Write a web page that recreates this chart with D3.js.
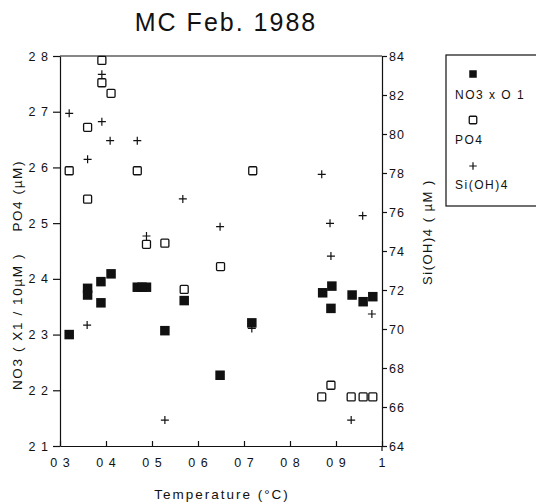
<!DOCTYPE html>
<html>
<head>
<meta charset="utf-8">
<script src="https://cdn.jsdelivr.net/npm/d3@7"></script>
<style>
  body { margin: 0; background: #fff; }
  text { font-family: 'Liberation Sans', Arial, sans-serif; fill: #111; white-space: pre; }
  .axis path, .axis line { stroke: #111; stroke-width: 1.2; }
</style>
</head>
<body>
<div id="chart"></div>
<script>
// temperature (C) and nitrate x 0.1
const tempNO3 = [0.32, 0.36, 0.36, 0.389, 0.389, 0.411, 0.468, 0.478, 0.488, 0.528, 0.570, 0.648, 0.717, 0.871, 0.891, 0.889, 0.935, 0.959, 0.980]
const no3 = [2.30, 2.383, 2.371, 2.395, 2.357, 2.409, 2.385, 2.385, 2.385, 2.307, 2.361, 2.227, 2.321, 2.375, 2.387, 2.347, 2.371, 2.359, 2.368]

// phosphate
const tempPO4 = [0.391, 0.391, 0.411, 0.360, 0.320, 0.468, 0.360, 0.488, 0.528, 0.649, 0.570, 0.719, 0.889, 0.869, 0.933, 0.959, 0.980]
const po4 = [2.792, 2.752, 2.733, 2.672, 2.594, 2.594, 2.543, 2.462, 2.464, 2.422, 2.381, 2.594, 2.209, 2.188, 2.188, 2.188, 2.188]

// silicate
const tempSi = [0.32, 0.391, 0.391, 0.409, 0.468, 0.360, 0.567, 0.869, 0.958, 0.488, 0.648, 0.359, 0.528, 0.887, 0.889, 0.978, 0.717, 0.933]
const si = [81.06, 83.06, 80.63, 79.66, 79.66, 78.7, 76.67, 77.93, 75.81, 74.77, 75.25, 70.2, 65.33, 75.42, 73.74, 70.77, 70.03, 65.33]

const xTicks = [0.3, 0.4, 0.5, 0.6, 0.7, 0.8, 0.9, 1.0]
const leftTicks = [2.1, 2.2, 2.3, 2.4, 2.5, 2.6, 2.7, 2.8]
const rightTicks = [64, 66, 68, 70, 72, 74, 76, 78, 80, 82, 84]
const legendNames = ['NO3 x O 1', 'PO4', 'Si(OH)4']

const W = 536, H = 504
const ml = 60, mr = 154, mt = 56, mb = 58
const w = W - ml - mr, h = H - mt - mb

const svg = d3.select('#chart').append('svg').attr('width', W).attr('height', H)

const x = d3.scaleLinear().domain([0.3, 1.0]).range([ml, ml + w])
const yL = d3.scaleLinear().domain([2.1, 2.8]).range([mt + h, mt])
const yR = d3.scaleLinear().domain([64, 84]).range([mt + h, mt])

// spaced digits, the decimal point is lost in the original print
const fmt = d => d === 1 ? '1' : d.toFixed(1).replace('.', ' ')

// title
svg.append('text')
  .attr('x', 226).attr('y', 31)
  .attr('text-anchor', 'middle')
  .style('font-size', '25px').style('letter-spacing', '2px')
  .text('MC Feb. 1988')

// axes
svg.append('g').attr('class', 'axis')
  .attr('transform', `translate(0,${mt + h})`)
  .call(d3.axisBottom(x).tickValues(xTicks).tickSize(-5).tickSizeOuter(0).tickPadding(12).tickFormat(fmt))

svg.append('g').attr('class', 'axis')
  .attr('transform', `translate(${ml},0)`)
  .call(d3.axisLeft(yL).tickValues(leftTicks).tickSize(7).tickSizeOuter(0).tickPadding(4).tickFormat(fmt))

svg.append('g').attr('class', 'axis')
  .attr('transform', `translate(${ml + w},0)`)
  .call(d3.axisRight(yR).tickValues(rightTicks).tickSize(5).tickSizeOuter(0).tickPadding(2))

svg.selectAll('.axis text').style('font-size', '12.5px').style('letter-spacing', '1px')

// frame top and right-axis tail
svg.append('line').attr('x1', ml).attr('x2', ml + w).attr('y1', mt).attr('y2', mt)
  .attr('stroke', '#111').attr('stroke-width', 1.2)
svg.append('line').attr('x1', ml + w).attr('x2', ml + w).attr('y1', mt + h).attr('y2', mt + h + 5)
  .attr('stroke', '#111').attr('stroke-width', 1.2)

// axis titles
svg.append('text')
  .attr('transform', `translate(22,${mt + h / 2 + 24}) rotate(-90)`)
  .attr('text-anchor', 'middle')
  .style('font-size', '13.5px').style('letter-spacing', '1.6px')
  .text('NO3 ( X1 / 10µM )    PO4 (µM)')

svg.append('text')
  .attr('transform', `translate(432,${mt + 176}) rotate(-90)`)
  .attr('text-anchor', 'middle')
  .style('font-size', '13px').style('letter-spacing', '1.5px')
  .text('Si(OH)4 ( µM )')

svg.append('text')
  .attr('x', 222).attr('y', 499)
  .attr('text-anchor', 'middle')
  .style('font-size', '13.5px').style('letter-spacing', '2px')
  .text('Temperature (°C)')

// marks
const filled = (g, s) => g.append('rect').attr('x', -s / 2).attr('y', -s / 2).attr('width', s).attr('height', s).attr('fill', '#111')
const open = (g, s) => g.append('rect').attr('x', -s / 2).attr('y', -s / 2).attr('width', s).attr('height', s)
  .attr('rx', 1).attr('fill', 'none').attr('stroke', '#111').attr('stroke-width', 1.3)
const plus = (g, s) => g.append('path').attr('d', `M${-s / 2},0H${s / 2}M0,${-s / 2}V${s / 2}`)
  .attr('stroke', '#111').attr('stroke-width', 1.2)

const view = svg.append('g')

view.selectAll('.po4').data(d3.zip(tempPO4, po4)).enter().append('g')
  .attr('class', 'po4')
  .attr('transform', d => `translate(${x(d[0])},${yL(d[1])})`)
  .each(function () { open(d3.select(this), 8) })

view.selectAll('.si').data(d3.zip(tempSi, si)).enter().append('g')
  .attr('class', 'si')
  .attr('transform', d => `translate(${x(d[0])},${yR(d[1])})`)
  .each(function () { plus(d3.select(this), 8) })

view.selectAll('.no3').data(d3.zip(tempNO3, no3)).enter().append('g')
  .attr('class', 'no3')
  .attr('transform', d => `translate(${x(d[0])},${yL(d[1])})`)
  .each(function () { filled(d3.select(this), 9.5) })

// legend
const lg = svg.append('g').attr('transform', 'translate(446,55)')
lg.append('rect').attr('width', 100).attr('height', 151)
  .attr('fill', 'none').attr('stroke', '#111').attr('stroke-width', 1.2)
const symbols = [filled, open, plus]
legendNames.forEach((name, i) => {
  const g = lg.append('g').attr('transform', `translate(27,${19 + i * 46})`)
  symbols[i](g, 7.5)
  lg.append('text').attr('x', 9).attr('y', 44 + i * 45)
    .style('font-size', '12px').style('letter-spacing', '1.5px')
    .text(name)
})
</script>
</body>
</html>
